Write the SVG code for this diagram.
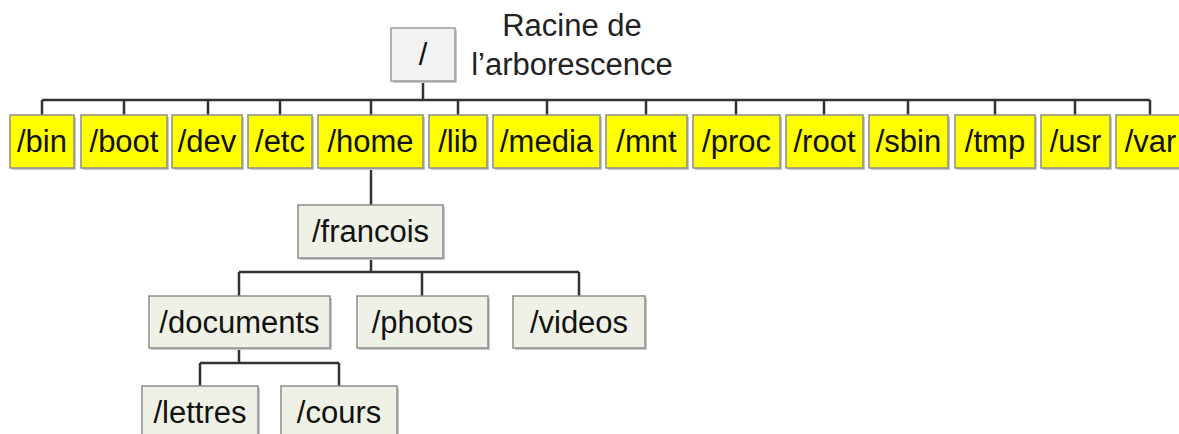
<svg xmlns="http://www.w3.org/2000/svg" width="1179" height="434" viewBox="0 0 1179 434">
<style>
text{font-family:"Liberation Sans",Arial,sans-serif;font-size:31px;fill:#111;text-anchor:middle}
.y{fill:#ffff00;stroke:#8c8c8c;stroke-width:1.5}
.g{fill:#f0f1e6;stroke:#8c8c8c;stroke-width:1.5}
.r{fill:#f2f2f2;stroke:#9a9a9a;stroke-width:1.5}
.sh{fill:#c8c8c8}
#connectors path{fill:none;stroke:#333333;stroke-width:2.5}
.lbl{fill:#222}
</style>
<rect width="1179" height="434" fill="#ffffff"/>
<g id="connectors">
<path d="M423 81V100M42 100H1150M42 100V115M124 100V115M208 100V115M280 100V115M371 100V115M458 100V115M547 100V115M646 100V115M736 100V115M824 100V115M908 100V115M995 100V115M1075 100V115M1150 100V115"/>
<path d="M371 168V205M371 258V272M239 272H579M239 272V296M422 272V296M579 272V296"/>
<path d="M239 348V363M200 363H339M200 363V386M339 363V386"/>
</g>
<g id="root"><rect class="sh" x="393" y="30" width="64" height="53"/><rect class="r" x="391" y="28" width="64" height="53"/><text x="423" y="65">/</text></g>
<g id="root-label"><text class="lbl" x="572" y="36">Racine de</text><text class="lbl" x="572" y="75">l’arborescence</text></g>
<g id="bin"><rect class="sh" x="12" y="117" width="64" height="53"/><rect class="y" x="10" y="115" width="64" height="53"/><text x="42" y="152">/bin</text></g>
<g id="boot"><rect class="sh" x="83" y="117" width="86" height="53"/><rect class="y" x="81" y="115" width="86" height="53"/><text x="124" y="152">/boot</text></g>
<g id="dev"><rect class="sh" x="174" y="117" width="70" height="53"/><rect class="y" x="172" y="115" width="70" height="53"/><text x="207" y="152">/dev</text></g>
<g id="etc"><rect class="sh" x="250" y="117" width="64" height="53"/><rect class="y" x="248" y="115" width="64" height="53"/><text x="280" y="152">/etc</text></g>
<g id="home"><rect class="sh" x="320" y="117" width="105" height="53"/><rect class="y" x="318" y="115" width="105" height="53"/><text x="370.5" y="152">/home</text></g>
<g id="lib"><rect class="sh" x="431" y="117" width="58" height="53"/><rect class="y" x="429" y="115" width="58" height="53"/><text x="458" y="152">/lib</text></g>
<g id="media"><rect class="sh" x="495" y="117" width="107" height="53"/><rect class="y" x="493" y="115" width="107" height="53"/><text x="546.5" y="152">/media</text></g>
<g id="mnt"><rect class="sh" x="608" y="117" width="81" height="53"/><rect class="y" x="606" y="115" width="81" height="53"/><text x="646.5" y="152">/mnt</text></g>
<g id="proc"><rect class="sh" x="695" y="117" width="87" height="53"/><rect class="y" x="693" y="115" width="87" height="53"/><text x="736.5" y="152">/proc</text></g>
<g id="rootdir"><rect class="sh" x="788" y="117" width="77" height="53"/><rect class="y" x="786" y="115" width="77" height="53"/><text x="824.5" y="152">/root</text></g>
<g id="sbin"><rect class="sh" x="871" y="117" width="79" height="53"/><rect class="y" x="869" y="115" width="79" height="53"/><text x="908.5" y="152">/sbin</text></g>
<g id="tmp"><rect class="sh" x="957" y="117" width="80" height="53"/><rect class="y" x="955" y="115" width="80" height="53"/><text x="995" y="152">/tmp</text></g>
<g id="usr"><rect class="sh" x="1043" y="117" width="69" height="53"/><rect class="y" x="1041" y="115" width="69" height="53"/><text x="1075.5" y="152">/usr</text></g>
<g id="var"><rect class="sh" x="1118" y="117" width="69" height="53"/><rect class="y" x="1116" y="115" width="69" height="53"/><text x="1150.5" y="152">/var</text></g>
<g id="francois"><rect class="sh" x="300" y="207" width="145" height="53"/><rect class="g" x="298" y="205" width="145" height="53"/><text x="370.5" y="242">/francois</text></g>
<g id="documents"><rect class="sh" x="151" y="298" width="181" height="52"/><rect class="g" x="149" y="296" width="181" height="52"/><text x="239.5" y="333">/documents</text></g>
<g id="photos"><rect class="sh" x="359" y="298" width="131" height="52"/><rect class="g" x="357" y="296" width="131" height="52"/><text x="422.5" y="333">/photos</text></g>
<g id="videos"><rect class="sh" x="515" y="298" width="132" height="52"/><rect class="g" x="513" y="296" width="132" height="52"/><text x="579" y="333">/videos</text></g>
<g id="lettres"><rect class="sh" x="144" y="388" width="116" height="60"/><rect class="g" x="142" y="386" width="116" height="60"/><text x="200" y="423">/lettres</text></g>
<g id="cours"><rect class="sh" x="283" y="388" width="116" height="60"/><rect class="g" x="281" y="386" width="116" height="60"/><text x="339" y="423">/cours</text></g>
</svg>
